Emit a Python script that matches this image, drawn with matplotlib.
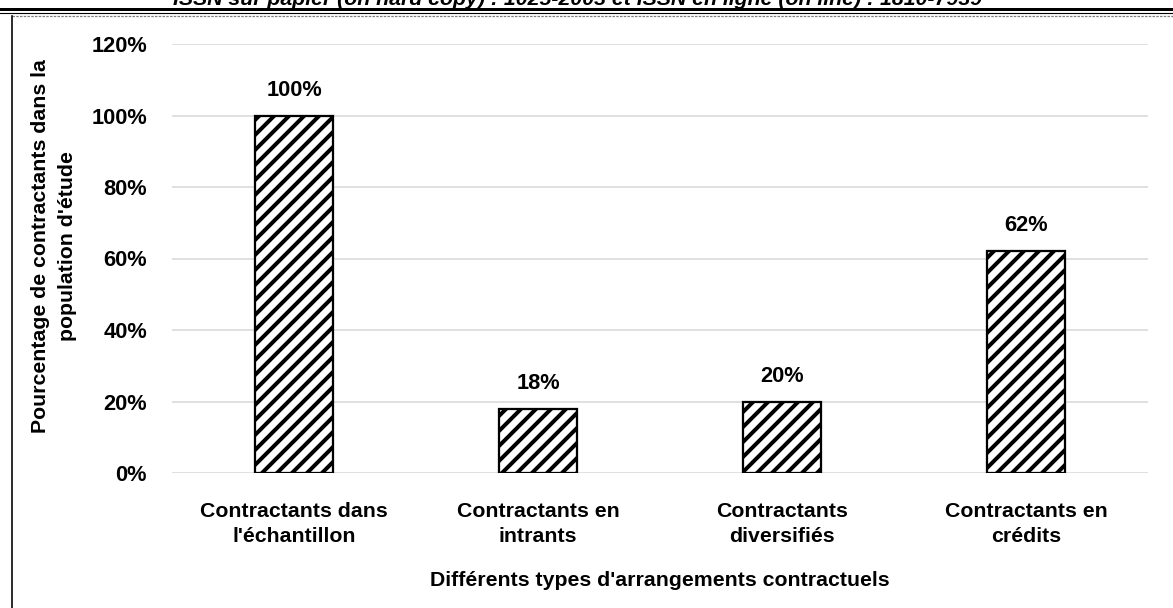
"""
Histogramme des types d'arrangements contractuels (part des contractants).
"""

import matplotlib.pyplot as plt
from matplotlib.lines import Line2D
from matplotlib.ticker import PercentFormatter

plt.rcParams.update(
    {
        "font.family": ["Liberation Sans", "DejaVu Sans"],
        "font.weight": "bold",
        "font.size": 17,
        "hatch.linewidth": 3.2,
        "hatch.color": "black",
    }
)

# Données
categories = [
    "Contractants dans\nl'échantillon",
    "Contractants en\nintrants",
    "Contractants\ndiversifiés",
    "Contractants en\ncrédits",
]
pourcentages = [1.00, 0.18, 0.20, 0.62]
yticks = [0.0, 0.2, 0.4, 0.6, 0.8, 1.0, 1.2]

entete = (
    "ISSN sur papier (on hard copy) : 1025-2003 et "
    "ISSN en ligne (on line) : 1810-7939"
)
titre_x = "Différents types d'arrangements contractuels"
titre_y = "Pourcentage de contractants dans la\npopulation d'étude"

DPI = 90
W, H = 1173, 608
fig = plt.figure(figsize=(W / DPI, H / DPI), dpi=DPI)
ax = fig.add_axes([172 / W, 1 - 473 / H, (1148 - 172) / W, (473 - 44) / H])

x = range(len(categories))
bars = ax.bar(
    x,
    pourcentages,
    width=0.32,
    color="white",
    edgecolor="black",
    linewidth=1.8,
    hatch="//",
    zorder=3,
)

# étiquettes de valeur au-dessus des barres
for b, v in zip(bars, pourcentages):
    ax.annotate(
        f"{v:.0%}",
        (b.get_x() + b.get_width() / 2, v),
        xytext=(0, 12),
        textcoords="offset points",
        ha="center",
        va="bottom",
        fontsize=17.5,
        fontweight="bold",
    )

ax.set_xlim(-0.5, len(categories) - 0.5)
ax.set_ylim(0, 1.2)
ax.set_yticks(yticks)
ax.yaxis.set_major_formatter(PercentFormatter(1.0, decimals=0))
ax.set_xticks(list(x))
ax.set_xticklabels(categories, linespacing=1.45)
ax.tick_params(axis="y", length=0, pad=20, labelsize=17.5)
ax.tick_params(axis="x", length=0, pad=23)

ax.grid(axis="y", color="#d9d9d9", linewidth=1.3, zorder=0)
for s in ax.spines.values():
    s.set_visible(False)

# titres des axes
fig.text(660 / W, 1 - 580 / H, titre_x, ha="center", va="center", fontsize=17)
fig.text(
    54 / W,
    1 - 246 / H,
    titre_y,
    rotation=90,
    ha="center",
    va="center",
    multialignment="center",
    fontsize=17,
    linespacing=1.5,
)

# bandeau de la revue (coupé en haut de la page)
fig.text(
    578 / W,
    1 - 5 / H,
    entete,
    ha="center",
    va="baseline",
    fontsize=17,
    fontstyle="italic",
)
fig.add_artist(Line2D([0, 1], [1 - 8.5 / H] * 2, color="black", lw=2.4))
fig.add_artist(Line2D([0, 1], [1 - 13 / H] * 2, color="black", lw=0.9))

# cadre du graphique
fig.add_artist(
    Line2D([12 / W, 1], [1 - 15.5 / H] * 2, color="#7f7f7f", lw=1.0, ls=(0, (2, 1)))
)
fig.add_artist(Line2D([12 / W] * 2, [0, 1 - 15.5 / H], color="black", lw=1.3))

fig.savefig("out.png", dpi=DPI)
